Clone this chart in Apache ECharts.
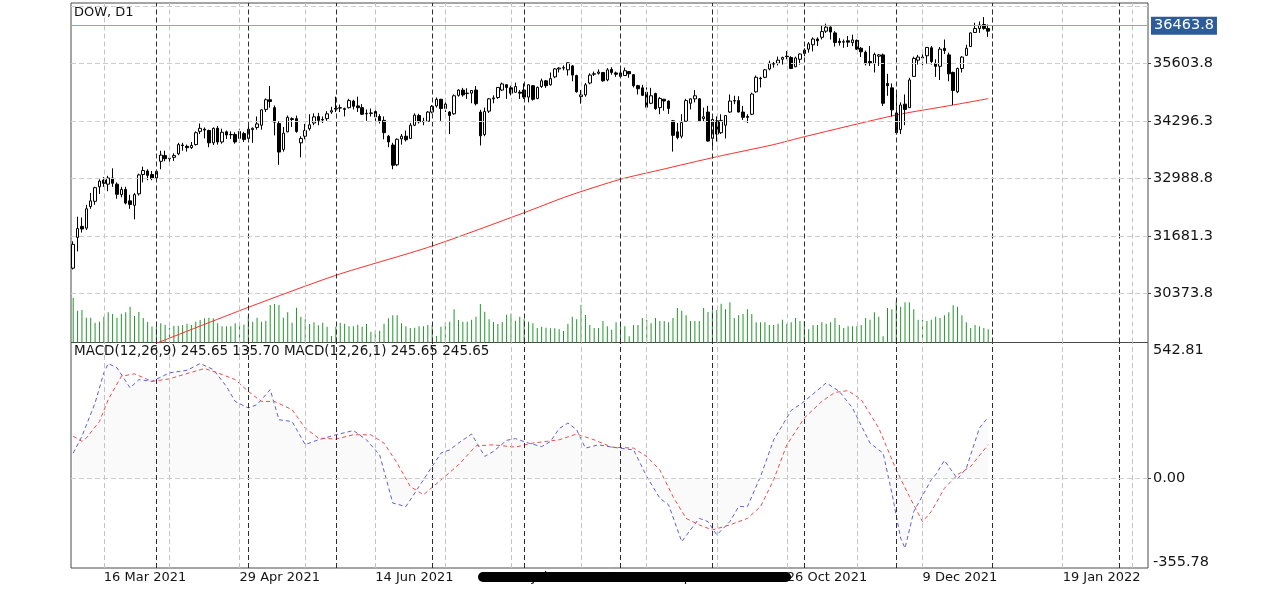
<!DOCTYPE html>
<html><head><meta charset="utf-8">
<script src="https://cdn.jsdelivr.net/npm/echarts@6/dist/echarts.min.js"></script>
<style>html,body{margin:0;padding:0;background:#fff}#c{width:1280px;height:592px}</style>
</head><body><div id="c"></div>
<script>
// ---------------- data ----------------
const symbolName = 'DOW, D1';
const firstDay = '2021-03-05';
const lastDay = '2021-12-31';
const holidays = ['2021-04-02','2021-05-31','2021-07-05','2021-09-06','2021-11-25','2021-12-24'];
const futureStart = '2022-01-03';
const futureDays = 36;

// [open, close, low, high]
const ohlc = [
[30950,31490,30920,31560],[31650,31850,31330,32120],[31900,31840,31760,32100],[31860,32300,31820,32390],[32350,32480,32300,32660],
[32470,32780,32390,32800],[32800,32930,32640,32970],[32950,32880,32800,33020],[32860,33000,32700,33050],[33000,32880,32800,33220],
[32860,32630,32530,32900],[32620,32740,32560,32800],[32740,32430,32400,32800],[32480,32400,32300,32620],[32380,32620,32060,32660],
[32640,33070,32600,33100],[33080,33170,32900,33260],[33160,33060,32950,33200],[33080,32990,32950,33160],[33000,33150,32980,33190],
[33380,33520,33200,33620],[33510,33440,33380,33620],[33440,33450,33360,33540],[33470,33510,33390,33560],[33550,33760,33520,33800],
[33750,33740,33620,33800],[33720,33690,33600,33760],[33690,33740,33660,33820],[33760,34030,33740,34060],[34060,34130,34000,34240],
[34110,34090,33900,34150],[34080,33800,33700,34100],[33800,34130,33750,34150],[34130,33820,33760,34180],[33820,34040,33780,34120],
[34050,33980,33890,34080],[33990,33985,33890,34060],[33990,33820,33780,34040],[33900,34060,33800,34120],[34010,33875,33820,34050],
[33900,34110,33880,34200],[34100,34130,33800,34150],[34150,34230,34100,34400],[34200,34550,34100,34560],[34560,34780,34500,34810],
[34780,34740,34600,35090],[34600,34270,33970,34650],[34240,33590,33300,34290],[33650,34020,33600,34160],[34050,34380,34040,34420],
[34350,34330,34160,34380],[34350,34060,34030,34420],[33800,33900,33470,33950],[33950,34080,33880,34230],[34120,34210,34080,34450],
[34250,34390,34200,34470],[34400,34310,34200,34480],[34330,34320,34250,34400],[34350,34460,34300,34520],[34500,34530,34460,34620],
[34580,34570,34500,34850],[34590,34600,34500,34670],[34560,34580,34400,34600],[34600,34760,34580,34800],[34750,34630,34560,34780],
[34640,34600,34500,34850],[34600,34450,34430,34680],[34460,34470,34300,34560],[34470,34480,34400,34580],[34510,34390,34300,34550],
[34400,34300,34240,34450],[34310,34030,33880,34400],[33950,33820,33700,33980],[33750,33290,33200,33800],[33300,33880,33270,33900],
[33890,33950,33760,34000],[33950,33870,33830,34080],[33900,34200,33890,34250],[34200,34430,34180,34470],[34420,34280,34240,34460],
[34280,34290,34200,34370],[34290,34500,34280,34520],[34500,34630,34470,34660],[34640,34790,34600,34830],[34790,34580,34300,34800],
[34580,34680,34500,34740],[34500,34420,34000,34520],[34460,34870,34440,34900],[34880,35000,34850,35020],[35000,34890,34850,35050],
[34920,34930,34800,35040],[34930,34990,34700,35000],[35000,34690,34650,35090],[34500,33960,33740,34550],[33990,34510,33950,34600],
[34520,34800,34480,34820],[34800,34820,34700,34880],[34830,35060,34800,35070],[35000,35140,34980,35170],[35120,35060,34800,35130],
[35050,34930,34880,35100],[34950,35080,34940,35170],[34950,34930,34800,35000],[35000,34840,34800,35150],[34840,35120,34720,35130],
[35100,34790,34760,35100],[34810,35060,34790,35080],[35080,35210,35050,35260],[35210,35100,35050,35230],[35120,35260,35100,35400],
[35300,35480,35270,35500],[35480,35500,35400,35520],[35500,35510,35450,35560],[35460,35620,35330,35630],[35550,35340,35200,35570],
[35330,34960,34940,35350],[34850,34890,34690,35000],[34890,35120,34850,35160],[35160,35340,35130,35380],[35360,35370,35320,35420],
[35380,35410,35350,35470],[35400,35210,35190,35410],[35230,35460,35200,35500],[35470,35400,35350,35520],[35390,35360,35300,35420],
[35390,35310,35290,35480],[35330,35440,35320,35510],[35420,35370,35280,35430],[35350,35100,35060,35360],[35100,35030,34900,35120],
[35050,34880,34870,35120],[34950,34610,34600,35060],[34700,34870,34680,35050],[34920,34580,34550,34940],[34600,34810,34450,34840],
[34790,34750,34530,34800],[34750,34580,34460,34760],[34300,33970,33600,34320],[34050,33920,33880,34250],[33950,34260,33900,34450],
[34290,34760,34280,34800],[34700,34800,34560,34810],[34800,34870,34720,35000],[34800,34300,34280,34810],[34350,34390,34280,34600],
[34500,33840,33830,34640],[33900,34330,33690,34360],[34300,34000,33830,34400],[34030,34310,34000,34450],[34200,34420,33900,34430],
[34500,34750,34480,34900],[34760,34750,34680,34870],[34760,34500,34490,34860],[34500,34380,34320,34640],[34400,34380,34250,34450],
[34450,34910,34430,34940],[34960,35290,34940,35330],[35270,35260,35060,35300],[35290,35460,35270,35480],[35480,35610,35450,35670],
[35590,35600,35510,35640],[35610,35680,35560,35760],[35700,35740,35580,35760],[35770,35760,35700,35890],[35740,35490,35480,35770],
[35530,35730,35520,35760],[35700,35820,35580,35830],[35830,35910,35770,35950],[35930,36050,35850,36090],[36030,36160,35880,36200],
[36160,36120,36000,36200],[36200,36330,36150,36470],[36340,36430,36300,36510],[36430,36320,36150,36450],[36300,36080,35990,36340],
[36110,36080,36010,36180],[36090,36100,35960,36150],[36120,36090,35980,36230],[36080,36140,36000,36260],[36130,35930,35910,36150],
[35950,35870,35750,35980],[35860,35600,35560,35900],[35650,35620,35550,36000],[35600,35810,35400,35850],[35770,35800,35550,35820],
[35800,34700,34640,35830],[35150,35100,34870,35370],[35050,34550,34400,35150],[34480,34030,33990,35000],[34100,34660,34000,34720],
[34680,34560,34200,34900],[34600,35230,34590,35280],[35310,35720,35300,35760],[35680,35750,35580,35800],[35730,35750,35560,35910],
[35780,35970,35600,35980],[35960,35650,35580,36000],[35600,35540,35300,35700],[35540,35930,35230,35980],[35950,35900,35820,36150],
[35800,35370,35200,35850],[35400,34990,34660,35420],[34960,35490,34930,35510],[35490,35750,35400,35770],[35790,35950,35780,36030],
[35990,36300,35980,36310],[36310,36400,36300,36530],[36400,36480,36300,36560],[36490,36400,36370,36660],[36400,36340,36210,36490]
];

// tick volume (thousands)
const volume = [
44.8,31.8,32.5,24.8,24.8,19.8,20.8,25.8,30.2,28.5,24.8,28.5,30.2,35.8,26.5,30.5,24.5,20.5,16,16.5,
19.2,17.5,14.8,16.8,16.8,17.5,18.8,17.5,20.8,22.5,24.2,24.8,24.2,19.2,16.2,16.2,16.2,19.2,20.5,18,
26.5,20.8,24.8,20.8,21.8,37.5,38.5,37.5,24.8,30.2,19.8,34.8,25.8,23.2,18.5,20.2,17.2,19.8,15.8,6.5,
15.8,19.8,18.8,16.2,16.2,17.8,15.8,18.5,10.8,11.8,11.8,18.8,24.2,27.2,27.2,19.2,16.2,14.5,14.8,16.2,
16.2,17.5,17.5,6.5,15.8,20.5,20.8,33.2,22.5,20.8,20.8,22.8,25.8,38.5,30.8,23.2,20.5,18.5,20.5,27.8,
28.8,21.8,25.8,23.2,20.8,19.2,14.5,15.8,14.8,14.2,14.2,13.2,11.5,18.8,25.8,23.2,37.8,27.5,17.5,14.5,
14.5,21.5,16.2,12.8,20.2,18,16.2,6.2,17.5,17.5,24.5,22.8,19.2,24.5,21.5,21.5,20.2,24.5,34.5,31.8,
27.2,21.5,21.5,21.5,34.5,30.5,31.5,32.5,38.8,33.2,40.2,24.5,27.2,28.5,33.2,28.5,20.2,20.2,20.2,17.5,
17.5,18.8,22.8,18.8,20.2,24.5,21.5,21.5,13.2,17.5,17.5,20.2,18.8,20.2,24.5,17.5,14.5,16.2,16.2,16.2,
17.5,24.5,22.8,30.2,25.8,6.2,34.5,33.2,41.5,35.8,40.2,40.2,33.2,22.8,22.8,21.5,22.8,25.8,24.5,27.2,
30.2,37.2,35.8,27.2,20.2,14.5,17.5,16.2,14.5,13.2
];

// moving average read at sample bars
const maBars   = [19, 40, 60, 82, 103, 113, 125, 134, 147, 160, 167, 188, 201, 209];
const maValues = [29241, 30059, 30787, 31453, 32211, 32590, 32971, 33182, 33484, 33760, 33939, 34433, 34660, 34805];

// MACD main (blue) read at sample bars
const macdBars = [0,2,5,7,8,10,13,15,18,22,26,29,32,35,37,40,42,45,47,50,53,56,60,64,67,70,73,76,79,82,84,86,88,91,94,96,99,101,104,107,109,111,113,115,117,120,123,128,131,134,136,139,141,143,145,147,150,152,154,157,160,164,167,172,175,178,182,185,187,189,190,192,196,197,199,202,204,207,209];
const macdMain = [102,169,302,422,459,442,362,395,388,422,432,459,435,368,308,282,295,355,235,228,136,155,175,192,155,95,-97,-111,-31,49,102,115,142,178,89,109,153,160,142,128,148,200,222,195,122,135,126,115,9,-78,-104,-251,-204,-158,-171,-224,-171,-111,-111,9,155,272,308,382,348,282,142,102,-57,-237,-277,-131,-4,16,73,-1,42,202,245.65];

// MACD signal (red) read at sample bars
const signalBars = [0,2,3,6,8,11,14,18,22,26,30,33,37,40,43,46,50,53,56,60,64,68,71,74,77,80,84,88,92,96,101,105,111,115,119,123,128,131,134,137,140,143,146,150,154,157,160,163,167,171,174,177,180,184,188,191,194,196,199,202,205,209];
const macdSignal = [169,149,162,228,315,408,418,388,398,419,439,422,395,348,308,308,275,202,162,158,175,175,142,62,-31,-64,-5,55,131,135,126,142,155,178,155,126,122,88,35,-71,-158,-184,-204,-184,-158,-111,-4,135,242,308,344,351,315,202,35,-71,-171,-131,-38,16,49,135.70];

const currentPrice = 36463.8;
const priceTicks = [30373.8, 31681.3, 32988.8, 34296.3, 35603.8];
const priceGridValues = [30373.8, 31681.3, 32988.8, 34296.3, 35603.8, 36911.3];
const macdTicks = [542.81, 0, -355.78];
const xTickDates = ['2021-03-16','2021-04-29','2021-06-14','2021-07-28','2021-09-10','2021-10-26','2021-12-09','2022-01-19'];
const xTickText  = ['16 Mar 2021','29 Apr 2021','14 Jun 2021','28 Jul 2021','10 Sep 2021','26 Oct 2021','9 Dec 2021','19 Jan 2022'];
const gridBars = [7,22,38,53,69,85,100,116,131,147,163,179,194,210,226,242];

// ---------------- build ----------------
function ymd(d){ return d.toISOString().slice(0,10); }
const cats = [];
for (let d = new Date(firstDay+'T00:00:00Z'); ymd(d) <= lastDay; d.setUTCDate(d.getUTCDate()+1)) {
  const wd = d.getUTCDay(), s = ymd(d);
  if (wd === 0 || wd === 6 || holidays.indexOf(s) >= 0) continue;
  cats.push(s);
}
for (let i = 0, d = new Date(futureStart+'T00:00:00Z'); i < futureDays; i++, d.setUTCDate(d.getUTCDate()+1)) cats.push(ymd(d));

const sepCats = cats.filter((c,i) => i > 0 && c.slice(0,7) !== cats[i-1].slice(0,7));
const tickMap = new Map(xTickDates.map((d,i)=>[d, xTickText[i]]));
const font = 'DejaVu Sans';
const txt = '#141414';
const priceFont = 14.5;

const grayV = {color:'#c4c4c4', type:[5,3], width:1};
const blackV = {color:'#2b2b2b', type:[5,3], width:1};
const grayH = {color:'#cdcdcd', type:[5,3], width:1};
function vLines(){
  return gridBars.map(i => ({xAxis: cats[i], lineStyle: grayV}))
    .concat(sepCats.map(c => ({xAxis: c, lineStyle: blackV})));
}
const mlBase = {silent:true, symbol:['none','none'], label:{show:false}, emphasis:{disabled:true}, animation:false};

const macdMainLast = macdMain[macdMain.length-1];
const macdSignalLast = macdSignal[macdSignal.length-1];
const macdText = 'MACD(12,26,9) ' + macdMainLast.toFixed(2) + ' ' + macdSignalLast.toFixed(2) +
                 ' MACD(12,26,1) ' + macdMainLast.toFixed(2) + ' ' + macdMainLast.toFixed(2);

const chart = echarts.init(document.getElementById('c'), null, {renderer:'canvas'});
const option = {
  animation: false,
  backgroundColor: '#ffffff',
  title: [
    {text: symbolName, left: 74, top: 6, padding: 0, textStyle: {fontFamily: font, fontSize: 13, fontWeight: 'normal', color: txt}},
    {text: macdText, left: 74, top: 344, padding: 0, textStyle: {fontFamily: font, fontSize: 13.5, fontWeight: 'normal', color: txt}}
  ],
  grid: [
    {left: 71, right: 132, top: 3, height: 339.5, show: true, borderColor: '#4a4a4a', borderWidth: 1, backgroundColor: 'transparent', containLabel: false, outerBoundsMode: 'none'},
    {left: 71, right: 132, top: 342.5, height: 225.5, show: true, borderColor: '#4a4a4a', borderWidth: 1, backgroundColor: 'transparent', containLabel: false, outerBoundsMode: 'none'}
  ],
  xAxis: [
    {type: 'category', gridIndex: 0, data: cats, boundaryGap: true, axisLine: {show: false}, axisTick: {show: false}, axisLabel: {show: false}, splitLine: {show: false}},
    {type: 'category', gridIndex: 1, data: cats, boundaryGap: true, axisLine: {show: false}, axisTick: {show: false}, splitLine: {show: false},
     axisLabel: {interval: (i, v) => tickMap.has(v), formatter: v => tickMap.get(v) || '', align: 'left', margin: 3,
                 color: txt, fontFamily: font, fontSize: 13, hideOverlap: false}}
  ],
  yAxis: [
    {type: 'value', gridIndex: 0, position: 'right', min: 29259, max: 36980, scale: true,
     axisLine: {show: false}, splitLine: {show: false},
     axisTick: {show: true, length: 3, customValues: priceTicks, lineStyle: {color: '#444'}},
     axisLabel: {customValues: priceTicks, formatter: v => v.toFixed(1), margin: 5, color: txt, fontFamily: font, fontSize: priceFont}},
    {type: 'value', gridIndex: 0, min: 0, max: 339.5, show: false, splitLine: {show: false}},
    {type: 'value', gridIndex: 1, position: 'right', min: -355.78, max: 542.81,
     axisLine: {show: false}, splitLine: {show: false},
     axisTick: {show: true, length: 3, customValues: [0], lineStyle: {color: '#444'}},
     axisLabel: {customValues: macdTicks, margin: 5, color: txt, fontFamily: font, fontSize: priceFont,
       formatter: v => v > 500 ? '{t|' + v.toFixed(2) + '}' : (v < -300 ? '{b|' + v.toFixed(2) + '}' : '{m|' + v.toFixed(2) + '}'),
       rich: {
         t: {padding: [16,0,0,0], fontFamily: font, fontSize: priceFont, color: txt},
         b: {padding: [0,0,12,0], fontFamily: font, fontSize: priceFont, color: txt},
         m: {fontFamily: font, fontSize: priceFont, color: txt}
       }}}
  ],
  series: [
    {type: 'bar', name: 'Volume', xAxisIndex: 0, yAxisIndex: 1, data: volume, barWidth: 1, z: 2,
     itemStyle: {color: '#22952a'},
     markLine: Object.assign({}, mlBase, {data: vLines()})},
    {type: 'line', name: 'MA', xAxisIndex: 0, yAxisIndex: 0, z: 3,
     data: maBars.map((b,i) => [cats[b], maValues[i]]), symbol: 'none', showSymbol: false, smooth: 0.25,
     lineStyle: {color: '#ff2d2d', width: 1}, clip: true,
     markLine: Object.assign({}, mlBase, {data: priceGridValues.map(v => ({yAxis: v, lineStyle: grayH}))})},
    {type: 'candlestick', name: symbolName, xAxisIndex: 0, yAxisIndex: 0, data: ohlc, barWidth: 3, z: 4,
     itemStyle: {color: '#ffffff', color0: '#000000', borderColor: '#000000', borderColor0: '#000000', borderWidth: 1},
     markLine: Object.assign({}, mlBase, {data: [{yAxis: currentPrice, lineStyle: {color: '#8ba6c9', type: 'solid', width: 1},
        label: {show: true, position: 'end', formatter: currentPrice.toFixed(1), color: '#ffffff', backgroundColor: '#2c5d98',
                padding: [2,3,1,3], fontFamily: font, fontSize: priceFont, distance: 3}}]})},
    {type: 'line', name: 'MACD main', xAxisIndex: 1, yAxisIndex: 2, z: 3,
     data: macdBars.map((b,i) => [cats[b], macdMain[i]]), symbol: 'none', showSymbol: false,
     lineStyle: {color: '#5f5fd2', width: 1, type: [4,3]},
     areaStyle: {color: 'rgba(0,0,0,0.028)', origin: 'auto'},
     markLine: Object.assign({}, mlBase, {data: vLines().concat([{yAxis: 0, lineStyle: grayH}])})},
    {type: 'line', name: 'MACD signal', xAxisIndex: 1, yAxisIndex: 2, z: 3,
     data: signalBars.map((b,i) => [cats[b], macdSignal[i]]), symbol: 'none', showSymbol: false,
     lineStyle: {color: '#ee4d4d', width: 1, type: [4,3]}}
  ],
  graphic: [
    {type: 'rect', shape: {x: 478, y: 572, width: 313, height: 10, r: 5}, style: {fill: '#000000'}, z: 100, silent: true}
  ]
};
chart.setOption(option);
</script>
</body></html>
